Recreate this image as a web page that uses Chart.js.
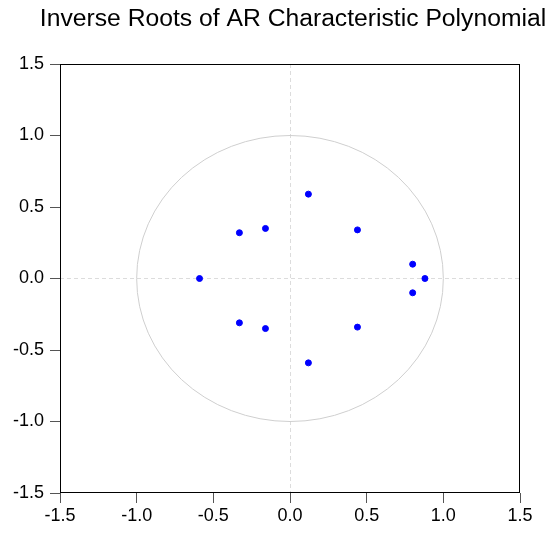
<!DOCTYPE html>
<html>
<head>
<meta charset="utf-8">
<script src="https://cdn.jsdelivr.net/npm/chart.js@4"></script>
<style>
  html, body { margin: 0; padding: 0; background: #fff; }
  #wrap { width: 550px; height: 533px; }
</style>
</head>
<body>
<div id="wrap"><canvas id="chart"></canvas></div>
<script>
const titleText = 'Inverse Roots of AR Characteristic Polynomial';
// real and imaginary parts of the inverse roots
const rootRe = [0.12, 0.12, -0.33, -0.33, -0.16, -0.16, 0.44, 0.44, 0.80, 0.80, 0.88, -0.59];
const rootIm = [0.59, -0.59, 0.32, -0.31, 0.35, -0.35, 0.34, -0.34, 0.10, -0.10, 0.00, 0.00];
const axisTicks = [-1.5, -1.0, -0.5, 0.0, 0.5, 1.0, 1.5];

const points = rootRe.map((x, i) => ({ x: x, y: rootIm[i] }));

// unit circle, frame and title
const decor = {
  id: 'decor',
  beforeDatasetsDraw(chart) {
    const { ctx, scales: { x, y } } = chart;
    const cx = x.getPixelForValue(0), cy = y.getPixelForValue(0);
    const rx = x.getPixelForValue(1) - cx, ry = cy - y.getPixelForValue(1);
    ctx.save();
    ctx.strokeStyle = '#cfcfcf';
    ctx.lineWidth = 1;
    ctx.beginPath();
    ctx.ellipse(cx, cy, rx, ry, 0, 0, Math.PI * 2);
    ctx.stroke();
    ctx.restore();
  },
  afterDraw(chart) {
    const { ctx, chartArea: a } = chart;
    ctx.save();
    ctx.strokeStyle = '#000';
    ctx.lineWidth = 1;
    ctx.strokeRect(a.left + 0.5, a.top + 0.5, a.right - a.left - 1, a.bottom - a.top - 1);
    ctx.fillStyle = '#000';
    ctx.font = '24.7px "Liberation Sans", Arial, sans-serif';
    ctx.textAlign = 'center';
    ctx.textBaseline = 'middle';
    ctx.fillText(titleText, (a.left + a.right) / 2 + 3, 19);
    ctx.restore();
  }
};

const tickFont = { family: '"Liberation Sans", Arial, sans-serif', size: 18 };
function axis(isY) {
  return {
    type: 'linear',
    min: -1.5,
    max: 1.5,
    afterBuildTicks: s => { s.ticks = axisTicks.map(v => ({ value: v })); },
    afterFit: s => { if (isY) s.width = 60; else s.height = 40; },
    border: { display: false, dash: [4, 3] },
    grid: {
      color: c => c.tick && c.tick.value === 0 ? '#dcdcdc' : 'rgba(0,0,0,0)',
      tickColor: '#555',
      tickLength: 10,
      drawTicks: true,
      borderDash: [4, 3]
    },
    ticks: {
      color: '#000',
      font: tickFont,
      padding: isY ? 6 : 2,
      maxRotation: 0,
      callback: v => Number(v).toFixed(1)
    }
  };
}

new Chart(document.getElementById('chart'), {
  type: 'scatter',
  data: {
    datasets: [{
      data: points,
      backgroundColor: '#0000ff',
      borderColor: '#0000ff',
      pointRadius: 3,
      pointHoverRadius: 3
    }]
  },
  options: {
    responsive: true,
    maintainAspectRatio: false,
    animation: false,
    layout: { padding: { top: 64, right: 30, left: 0, bottom: 0 } },
    plugins: { legend: { display: false }, tooltip: { enabled: false }, title: { display: false } },
    scales: { x: axis(false), y: axis(true) }
  },
  plugins: [decor]
});
</script>
</body>
</html>
